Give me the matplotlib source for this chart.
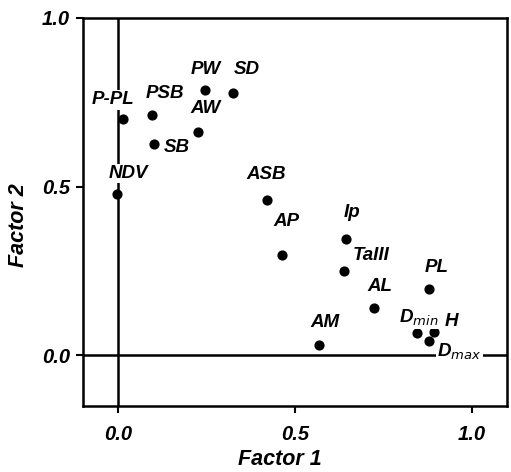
import numpy as np
import matplotlib.pyplot as plt

plt.rcParams['font.family'] = ['Liberation Sans', 'DejaVu Sans']

# factor loadings
names = ['P-PL', 'PSB', 'PW', 'SD', 'AW', 'SB', 'NDV', 'ASB', 'Ip', 'AP',
         'TaIII', 'AL', 'PL', 'AM', 'Dmin', 'H', 'Dmax']
factor1 = [0.014, 0.095, 0.246, 0.325, 0.225, 0.102, -0.003, 0.420, 0.644,
           0.463, 0.638, 0.723, 0.879, 0.568, 0.845, 0.893, 0.879]
factor2 = [0.700, 0.713, 0.787, 0.778, 0.662, 0.627, 0.479, 0.459, 0.346,
           0.296, 0.251, 0.139, 0.198, 0.030, 0.065, 0.068, 0.041]
label_text = ['P-PL', 'PSB', 'PW', 'SD', 'AW', 'SB', 'NDV', 'ASB', 'Ip', 'AP',
              'TaIII', 'AL', 'PL', 'AM', r'D$_{min}$', 'H', r'D$_{max}$']
# where each label sits, in data units
label_x = [-0.014, 0.132, 0.248, 0.364, 0.248, 0.166, 0.029, 0.418, 0.661,
           0.477, 0.717, 0.742, 0.900, 0.585, 0.852, 0.943, 0.966]
label_y = [0.757, 0.775, 0.846, 0.846, 0.733, 0.615, 0.538, 0.535, 0.423,
           0.396, 0.296, 0.204, 0.260, 0.098, 0.112, 0.100, 0.009]

fig = plt.figure(figsize=(5.11, 4.72), dpi=100)
ax = fig.add_axes([0.162, 0.140, 0.830, 0.822])

ax.axhline(0, color='black', lw=1.8, zorder=1)
ax.axvline(0, color='black', lw=1.8, zorder=1)
ax.scatter(factor1, factor2, s=40, color='black', zorder=3)

for t, lx, ly in zip(label_text, label_x, label_y):
    ax.text(lx, ly, t, ha='center', va='center', fontsize=13.5, style='italic',
            fontweight='bold', zorder=4,
            bbox=dict(facecolor='white', edgecolor='none', pad=0.8))

ax.set_xlim(-0.1, 1.1)
ax.set_ylim(-0.15, 1.0)
ax.set_xticks([0.0, 0.5, 1.0])
ax.set_yticks([0.0, 0.5, 1.0])
ax.set_xticklabels(['0.0', '0.5', '1.0'])
ax.set_yticklabels(['0.0', '0.5', '1.0'])
ax.tick_params(direction='out', length=5, width=1.5, labelsize=14.5, pad=4)
ax.tick_params(axis='x', pad=9)
for lab in ax.get_xticklabels() + ax.get_yticklabels():
    lab.set_fontstyle('italic')
    lab.set_fontweight('bold')
for sp in ax.spines.values():
    sp.set_linewidth(1.8)

ax.set_xlabel('Factor 1', fontsize=15.5, style='italic', fontweight='bold')
ax.set_ylabel('Factor 2', fontsize=15.5, style='italic', fontweight='bold')
ax.xaxis.set_label_coords(0.465, -0.139)
ax.yaxis.set_label_coords(-0.151, 0.466)
ax.xaxis.label.set_va('center')
ax.yaxis.label.set_va('center')

fig.savefig('out.png', dpi=100)
